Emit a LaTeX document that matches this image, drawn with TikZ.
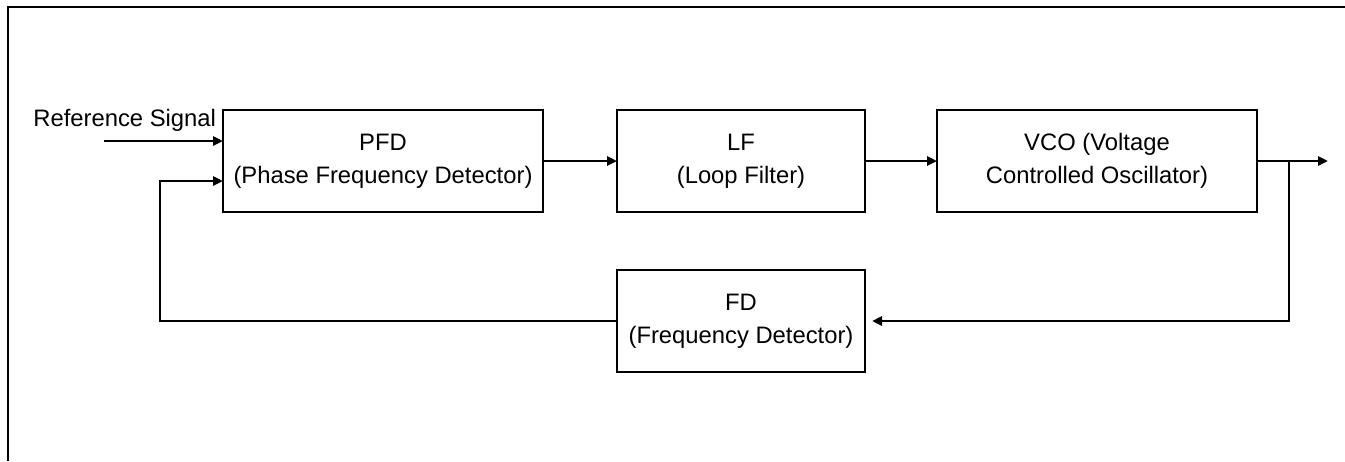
\documentclass[tikz,border=0pt]{standalone}
\usepackage{fontspec}
\setmainfont{Liberation Sans}
\usetikzlibrary{arrows.meta,positioning}

\begin{document}
\begin{tikzpicture}[x=0.5pt, y=-0.5pt, >={Triangle[length=5pt,width=4.5pt]},
  font=\fontsize{11.9}{16.5}\selectfont, node distance=36pt,
  block/.style={draw, line width=1.3pt, align=center, minimum height=51pt,
                minimum width=124pt, inner sep=0pt, outer sep=0pt},
  wide/.style={block, minimum width=160pt},
  ar/.style={->, line width=1.3pt}]

  \useasboundingbox (0,0) rectangle (1345,461);
  % frame (only top and left edges show)
  \draw[line width=1.3pt] (8,461) -- (8,7) -- (1345,7);

  % forward path
  \node[wide] (pfd) at (383,161) {PFD\\(Phase Frequency Detector)};
  \node[block, right=37pt of pfd] (lf) {LF\\(Loop Filter)};
  \node[wide, right=of lf] (vco) {VCO (Voltage\\Controlled Oscillator)};

  % feedback block
  \node[block, below=29pt of lf] (fd) {FD\\(Frequency Detector)};

  % input signal
  \node[anchor=base west, inner sep=0pt] (reflbl) at (33,126) {Reference Signal};
  \coordinate (refin) at (104,141);
  \coordinate (fbl) at (160,181);
  \coordinate (tap) at (1289,161);
  \coordinate (out) at (1328,161);

  \draw[ar] (refin) -- (refin -| pfd.west);
  \draw[ar] (pfd) -- (lf);
  \draw[ar] (lf) -- (vco);
  \draw[ar] (vco) -- (out);
  \draw[ar, shorten >=3.5pt] (tap) |- (fd.east);
  \draw[ar] (fd.west) -| (fbl) -- (fbl -| pfd.west);
\end{tikzpicture}
\end{document}
